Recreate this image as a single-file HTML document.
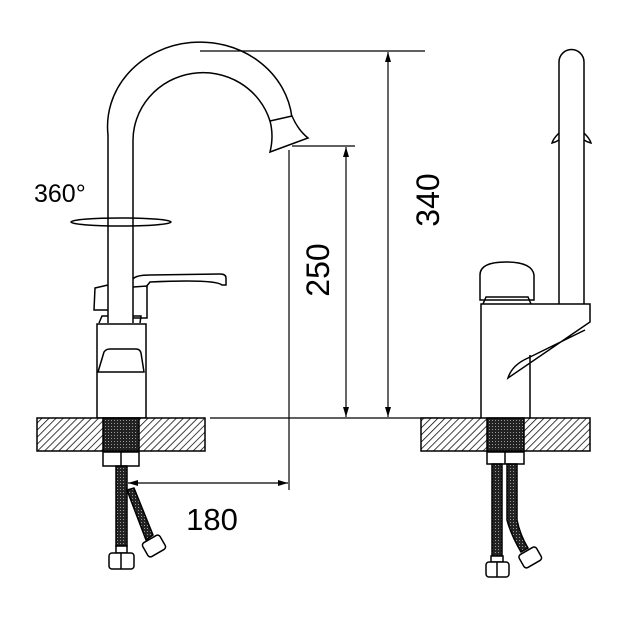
<!DOCTYPE html>
<html><head><meta charset="utf-8"><style>html,body{margin:0;padding:0;background:#fff}svg{display:block}</style></head><body>
<svg width="628" height="628" viewBox="0 0 628 628" xmlns="http://www.w3.org/2000/svg">
<defs>
<pattern id="h" width="5" height="5" patternUnits="userSpaceOnUse" patternTransform="rotate(45)">
<rect width="5" height="5" fill="#fff"/><line x1="0" y1="0" x2="0" y2="5" stroke="#000" stroke-width="1.5"/></pattern>
<pattern id="d" width="3" height="3" patternUnits="userSpaceOnUse"><rect width="3" height="3" fill="#222"/><rect width="1" height="1" fill="#999"/></pattern>
<marker id="a" markerWidth="10" markerHeight="6" refX="10" refY="3" orient="auto-start-reverse" markerUnits="userSpaceOnUse"><path d="M0,0 L10,3 L0,6z" fill="#000"/></marker>
</defs>
<g fill="none" stroke="#000" stroke-width="1.5">
<path d="M108,323 L108,135 A92,84 0 0 1 292,118"/>
<path d="M133,323 L133,142 A70,68 0 0 1 270,121"/>
<path d="M270,121 L292,116 Q298,130 308,138 L270,152 Q274,136 270,121 Z" fill="#fff"/>
<ellipse cx="121" cy="222" rx="50" ry="4"/>
<path d="M133,279 Q136,275 150,275 L220,274 Q226,274 226,278 L226,285 L222,285 Q215,279 150,282 L146,287"/>
<path d="M108,285 L95,288 L94,310 L108,310"/>
<path d="M133,287 L147,286 L147,318 L133,318"/>
<path d="M99,323 L102,316 L108,316 M140,323 L141,316 L133,316"/>
<rect x="97" y="324" width="49" height="94" fill="#fff"/>
<path d="M98,372 L104,352 Q106,349 110,349 L136,349 Q140,349 141,353 L144,372 Z"/>
<g stroke-width="1.2">
<line x1="200" y1="51" x2="425" y2="51"/>
<line x1="292" y1="146" x2="355" y2="146"/>
<line x1="289" y1="150" x2="289" y2="490"/>
<line x1="210" y1="418" x2="440" y2="418"/>
<line x1="346" y1="147" x2="346" y2="417" marker-start="url(#a)" marker-end="url(#a)"/>
<line x1="388" y1="52" x2="388" y2="417" marker-start="url(#a)" marker-end="url(#a)"/>
<line x1="128" y1="483" x2="288" y2="483" marker-start="url(#a)" marker-end="url(#a)"/>
</g>
<rect x="37" y="418" width="168" height="33" fill="url(#h)"/>
<rect x="103" y="418" width="36" height="33" fill="url(#d)"/>
<rect x="421" y="418" width="169" height="33" fill="url(#h)"/>
<rect x="487" y="418" width="37" height="33" fill="url(#d)"/>
<rect x="103" y="452" width="36" height="14" fill="#fff"/>
<line x1="121" y1="452" x2="121" y2="466"/>
<rect x="116" y="466" width="11" height="80" fill="url(#d)"/>
<path d="M127,490 L134,488 L153,535 L146,540 Z" fill="url(#d)"/>
<rect x="116" y="546" width="11" height="7" fill="#fff"/>
<rect x="109" y="553" width="25" height="16" rx="3" fill="#fff"/>
<line x1="121" y1="553" x2="121" y2="569"/>
<rect x="144" y="538" width="20" height="16" rx="3" fill="#fff" transform="rotate(-30 154 546)"/>
<path d="M559,304 L559,62 A12.5,12.5 0 0 1 584,62 L584,304"/>
<path d="M559,133 Q553,139 552,143 Q556,142 559,140 M584,133 Q590,139 591,143 Q587,142 584,140"/>
<path d="M480,300 L480,275 Q480,262 506,262 Q532,262 534,275 L534,300 Z"/>
<path d="M483,304 L486,297 L528,297 L531,304"/>
<path d="M481,418 L481,304 L590,304 L590,322 L508,378 Q512,365 528,358 L585,330 M530,355 L530,418"/>
<rect x="487" y="452" width="37" height="12" fill="#fff"/>
<line x1="505" y1="452" x2="505" y2="464"/>
<rect x="492" y="464" width="10" height="92" fill="url(#d)"/>
<path d="M507,464 L517,464 L517,520 Q520,535 528,548 L521,552 Q511,535 507,520 Z" fill="url(#d)"/>
<rect x="491" y="556" width="12" height="6" fill="#fff"/>
<rect x="486" y="562" width="23" height="15" rx="3" fill="#fff"/>
<line x1="497" y1="562" x2="497" y2="577"/>
<rect x="520" y="550" width="20" height="15" rx="3" fill="#fff" transform="rotate(-30 530 557)"/>
</g>
<g font-family="Liberation Sans, sans-serif" fill="#000">
<text x="34" y="202" font-size="25">360°</text>
<text x="212" y="530" font-size="31" text-anchor="middle">180</text>
<text transform="translate(329,270) rotate(-90)" font-size="32" text-anchor="middle">250</text>
<text transform="translate(439,200) rotate(-90)" font-size="32" text-anchor="middle">340</text>
</g>
</svg>
</body></html>
